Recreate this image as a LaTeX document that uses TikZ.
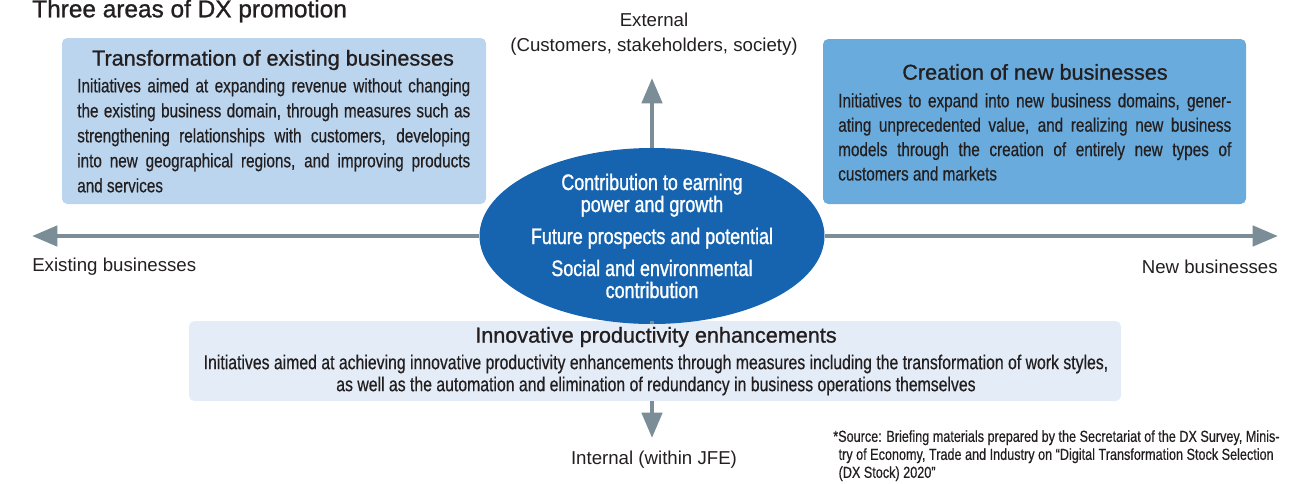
\documentclass[tikz,border=0pt]{standalone}
\usepackage{fontspec}
\setmainfont{Liberation Sans}
\newfontfamily\narrowfont[FakeStretch=0.79,FakeBold=0.5]{Liberation Sans}
\newfontfamily\narrowbold[FakeStretch=0.8,FakeBold=1.2]{Liberation Sans}
\newfontfamily\mediumfont[FakeBold=1]{Liberation Sans}
\usetikzlibrary{arrows.meta,shapes.geometric}

\definecolor{inkgray}{HTML}{231F20}
\definecolor{axisgray}{HTML}{7B8D96}
\definecolor{paleblue}{HTML}{BBD5EE}
\definecolor{midblue}{HTML}{68ABDC}
\definecolor{iceblue}{HTML}{E4EDF7}
\definecolor{deepblue}{HTML}{1664B0}

\tikzset{
  panel/.style={rectangle,rounded corners=4pt,inner sep=0pt},
  paneltitle/.style={font=\mediumfont\fontsize{16.2}{19}\selectfont,text=inkgray},
  panelbody/.style={font=\narrowfont\fontsize{14.5}{18.75}\selectfont,text=inkgray,
    inner sep=0pt,text width=294.75pt,align=justify},
  axislabel/.style={font=\fontsize{14}{17}\selectfont,text=inkgray},
  axisarrow/.style={draw=axisgray,line width=3.4pt,-{Triangle[length=19pt,width=15pt]}},
  axisline/.style={draw=axisgray,line width=3.4pt},
}

\begin{document}
\begin{tikzpicture}[x=0.75pt,y=-0.75pt]
\useasboundingbox (0,0) rectangle (1303,483);

\node[anchor=west,inner sep=0pt,font=\mediumfont\fontsize{18.3}{21}\selectfont,text=inkgray] (headline) at (32,11) {Three areas of DX promotion};

% the three areas
\node[panel,fill=paleblue,minimum width=318pt,minimum height=124.5pt] (existing) at (274,121) {};
\node[paneltitle] (existingtitle) at (273,60) {Transformation of existing businesses};
\node[panelbody,anchor=north west] (existingbody) at (77,78) {Initiatives aimed at expanding revenue without changing\linebreak
 the existing business domain, through measures such as\linebreak
 strengthening relationships with customers, developing\linebreak
 into new geographical regions, and improving products\linebreak
 and services};

\node[panel,fill=midblue,minimum width=317.25pt,minimum height=123.75pt] (newbiz) at (1034.5,121.5) {};
\node[paneltitle] (newbiztitle) at (1035,72) {Creation of new businesses};
\node[panelbody,anchor=north west,font=\narrowfont\fontsize{14.5}{18.3}\selectfont] (newbizbody) at (838,93) {Initiatives to expand into new business domains, gener-\linebreak
 ating unprecedented value, and realizing new business\linebreak
 models through the creation of entirely new types of\linebreak
 customers and markets};

\node[panel,fill=iceblue,minimum width=699pt,minimum height=60pt] (inner) at (655,361) {};
\node[paneltitle] (innertitle) at (656,337) {Innovative productivity enhancements};
\node[panelbody,text width=,align=center,font=\narrowfont\fontsize{15}{16.5}\selectfont] (innerbody) at (656,375) {Initiatives aimed at achieving innovative productivity enhancements through measures including the transformation of work styles,\\
 as well as the automation and elimination of redundancy in business operations themselves};

% centre ellipse
\node[ellipse,fill=deepblue,minimum width=258.75pt,minimum height=112.5pt,inner sep=0pt,
  text=white,align=center,font=\narrowbold\fontsize{16.8}{16.5}\selectfont] (core) at (652,236)
  {Contribution to earning\\power and growth\\[7.5pt]Future prospects and potential\\[7.5pt]Social and environmental\\contribution};

% axes
\coordinate (westtip) at (32,236);
\coordinate (easttip) at (1278,236);
\coordinate (uptip) at (652,78);
\coordinate (downtip) at (652,438);
\draw[axisarrow] (core) -- (westtip);
\draw[axisarrow] (core) -- (easttip);
\draw[axisarrow] (core) -- (uptip);
\draw[axisline] (core) -- (core |- inner.north);
\draw[axisarrow] (core |- inner.south) -- (downtip);

\node[axislabel] (external) at (654,20) {External};
\node[axislabel] (externalsub) at (654,47) {(Customers, stakeholders, society)};
\node[axislabel,anchor=west,inner sep=0pt] (existinglabel) at (32,267) {Existing businesses};
\node[axislabel,anchor=east,inner sep=0pt] (newlabel) at (1278,267) {New businesses};
\node[axislabel] (internal) at (654,460) {Internal (within JFE)};

\node[anchor=north west,inner sep=0pt,align=left,text=inkgray,
  font=\narrowfont\fontsize{12}{13.5}\selectfont] (source) at (833,430)
  {*Source: Briefing materials prepared by the Secretariat of the DX Survey, Minis-\\
  \hspace*{4pt}try of Economy, Trade and Industry on “Digital Transformation Stock Selection\\
  \hspace*{4pt}(DX Stock) 2020”};
\end{tikzpicture}
\end{document}
